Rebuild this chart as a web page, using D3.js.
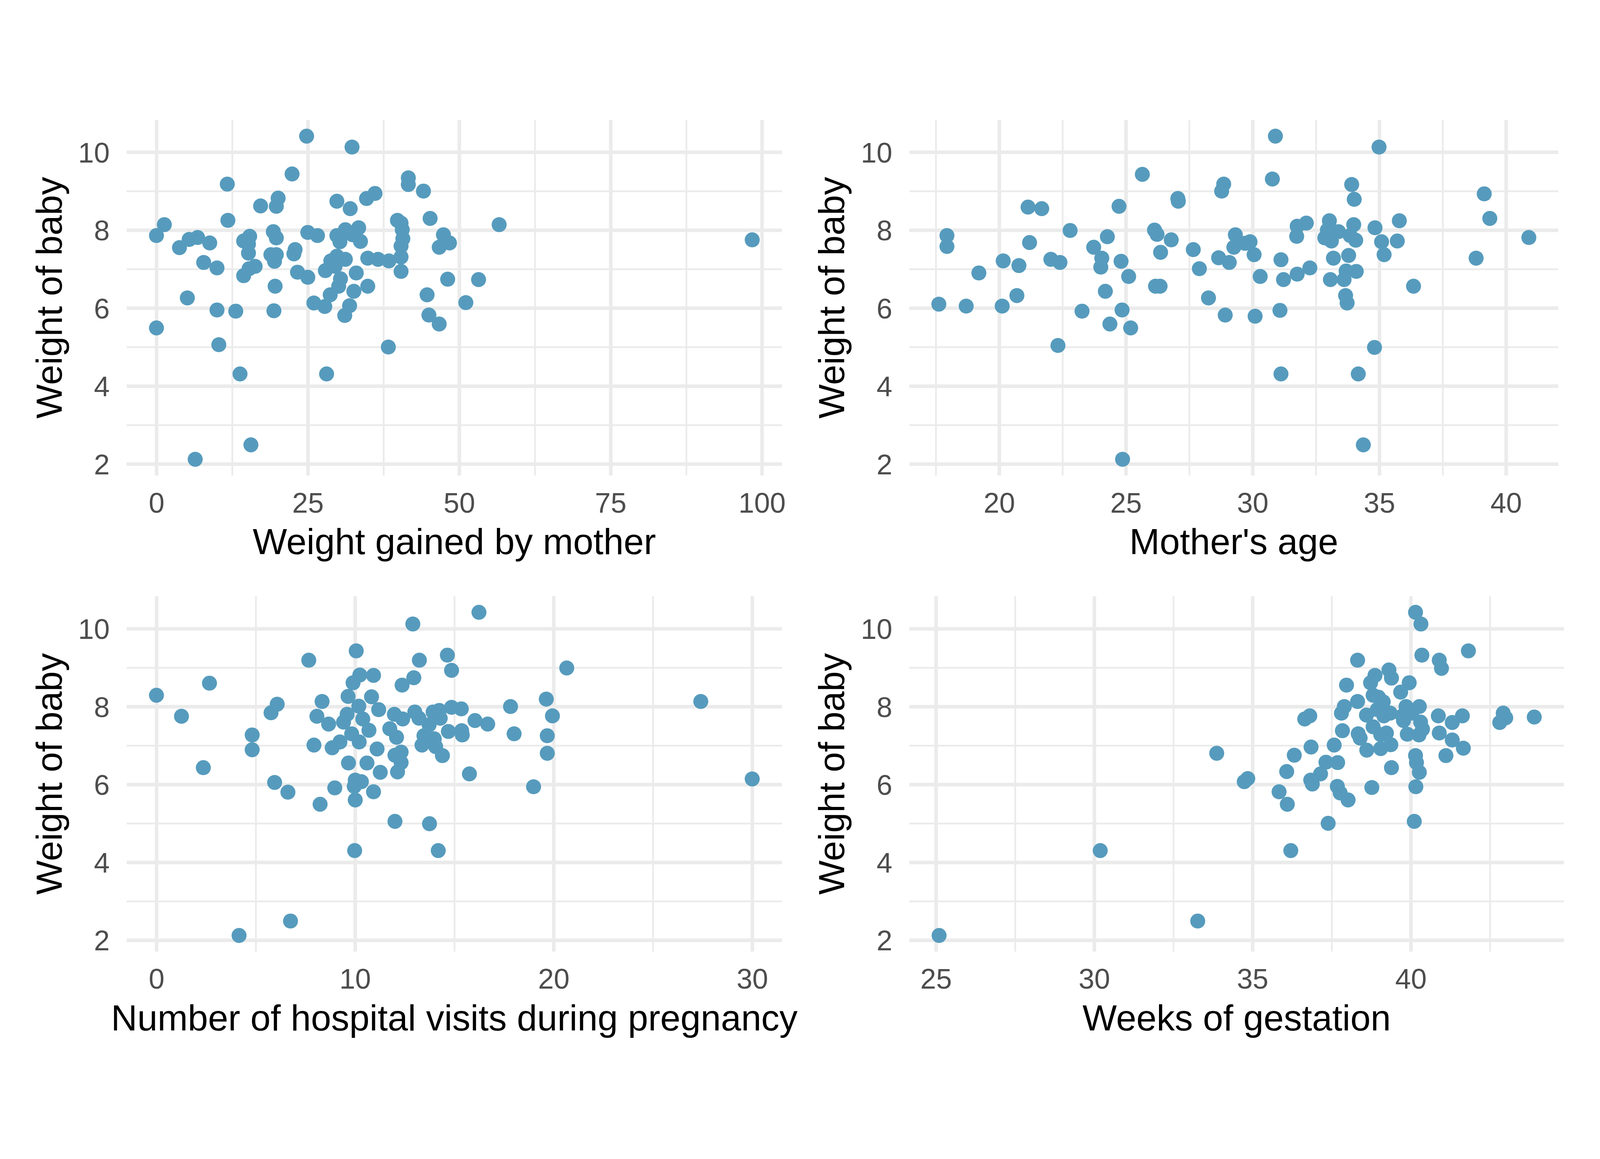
<!DOCTYPE html>
<html>
<head>
    <title>Baby weight scatterplots</title>
    <script src="https://d3js.org/d3.v7.min.js"></script>
    <style>
        html, body { margin: 0; padding: 0; width: 100%; height: 100%; overflow: hidden; background: #ffffff; }
        svg { display: block; width: 100vw; height: 100vh; }
        .grid line { stroke: #EBEBEB; }
        .grid.minor line { stroke-width: 5.3; }
        .grid.major line { stroke-width: 10.7; }
        .tick-labels text {
            font-family: "Liberation Sans", Arial, Helvetica, sans-serif;
            font-size: 85px;
            fill: #4D4D4D;
        }
        .axis-title {
            font-family: "Liberation Sans", Arial, Helvetica, sans-serif;
            font-size: 109px;
            fill: #000000;
        }
    </style>
</head>
<body>
    <svg viewBox="0 0 4800 2966" preserveAspectRatio="xMidYMid meet"></svg>
    <script>
        // [weight gained by mother, weight of baby]
        const weightGained = [
            [24.8,10.41],[32.3,10.13],[22.4,9.44],[11.7,9.18],[41.6,9.34],[41.6,9.17],[44.1,9.0],[36.1,8.94],
            [34.7,8.81],[20.1,8.82],[19.8,8.61],[17.2,8.62],[29.8,8.74],[32.0,8.55],[11.8,8.25],[45.2,8.30],
            [39.8,8.25],[40.4,8.18],[56.6,8.14],[1.3,8.14],[0,7.86],[5.4,7.76],[6.8,7.81],[3.8,7.55],
            [8.8,7.67],[7.8,7.17],[10.0,7.03],[5.1,6.26],[0,5.49],[10.0,5.95],[13.1,5.92],[10.3,5.06],
            [13.8,4.31],[15.6,2.49],[6.4,2.12],[14.4,7.72],[15.4,7.84],[15.2,7.41],[15.2,7.64],[14.4,6.83],
            [15.3,7.01],[16.3,7.07],[19.3,7.96],[19.8,7.80],[18.9,7.37],[19.8,7.37],[19.5,7.20],[19.6,6.56],
            [19.4,5.93],[22.7,7.39],[22.9,7.50],[23.3,6.92],[25.0,6.79],[25.0,7.94],[26.6,7.86],[27.9,6.96],
            [26.0,6.13],[27.8,6.04],[28.7,6.34],[28.1,4.31],[29.8,7.86],[30.3,7.70],[31.2,8.01],[32.4,7.88],
            [33.4,8.06],[33.7,7.71],[28.8,7.21],[29.8,7.33],[31.2,7.25],[29.5,7.07],[30.4,6.75],[30.1,6.56],
            [33.0,6.90],[32.6,6.43],[31.9,6.06],[31.1,5.81],[34.9,6.56],[34.9,7.28],[36.6,7.25],[38.4,7.21],
            [40.4,7.31],[40.4,7.59],[40.7,7.78],[40.6,8.01],[40.4,6.94],[38.3,5.0],[46.7,7.56],[47.4,7.88],
            [48.4,7.67],[48.1,6.74],[44.7,6.34],[45.0,5.82],[46.7,5.59],[51.1,6.14],[53.2,6.73],[98.4,7.75]
        ];

        // [mother's age, weight of baby]
        const motherAge = [
            [17.62,6.10],[17.94,7.86],[17.94,7.58],[18.70,6.05],[19.20,6.90],[20.12,6.05],[20.16,7.21],[20.70,6.32],
            [20.78,7.09],[21.14,8.59],[21.68,8.55],[21.20,7.68],[22.04,7.25],[22.40,7.17],[22.32,5.04],[22.80,7.99],
            [23.27,5.92],[23.73,7.56],[24.05,7.28],[24.01,7.05],[24.27,7.83],[24.19,6.43],[24.37,5.59],[24.73,8.61],
            [24.81,7.20],[24.85,5.95],[25.11,6.81],[25.19,5.49],[24.87,2.12],[25.65,9.43],[26.13,8.0],[26.23,7.89],
            [26.37,7.43],[26.17,6.56],[26.35,6.56],[26.79,7.75],[27.05,8.81],[27.07,8.74],[27.66,7.50],[27.90,7.01],
            [28.26,6.26],[28.66,7.29],[28.78,9.0],[28.86,9.18],[29.08,7.17],[28.92,5.82],[29.32,7.88],[29.26,7.56],
            [29.70,7.66],[29.90,7.70],[30.06,7.37],[30.10,5.79],[30.30,6.81],[30.90,10.41],[30.78,9.31],[31.12,7.24],
            [31.22,6.73],[31.08,5.94],[31.12,4.31],[31.76,8.10],[31.74,7.84],[31.76,6.87],[32.12,8.18],[32.26,7.03],
            [33.03,8.24],[32.95,8.0],[32.85,7.80],[33.11,7.72],[33.39,7.96],[33.19,7.28],[33.07,6.73],[33.91,9.17],
            [34.01,8.79],[33.99,8.14],[33.85,7.86],[34.07,7.74],[33.79,7.35],[33.69,6.95],[34.09,6.94],[33.61,6.73],
            [33.67,6.32],[33.73,6.13],[34.17,4.31],[34.37,2.49],[34.81,4.99],[34.83,8.06],[34.99,10.13],[35.09,7.70],
            [35.19,7.37],[35.71,7.72],[35.79,8.24],[36.35,6.56],[38.82,7.28],[39.14,8.93],[39.36,8.30],[40.90,7.81]
        ];

        // [number of hospital visits, weight of baby]
        const hospitalVisits = [
            [0,8.29],[1.26,7.75],[2.67,8.60],[2.36,6.43],[4.82,7.27],[4.82,6.89],[4.16,2.12],[6.75,2.49],
            [5.77,7.84],[6.08,8.06],[5.95,6.05],[6.62,5.80],[7.67,9.19],[7.93,7.01],[8.08,7.75],[8.34,8.13],
            [8.24,5.49],[8.67,7.55],[8.85,6.94],[8.98,5.91],[9.24,7.09],[9.42,7.60],[9.65,8.26],[9.60,7.80],
            [9.67,6.55],[9.83,7.30],[9.90,8.61],[10.06,9.43],[10.01,6.11],[9.96,5.95],[10.32,6.07],[10.01,5.60],
            [9.98,4.30],[10.19,8.01],[10.21,7.09],[10.24,8.81],[10.39,7.68],[10.60,6.55],[10.70,7.39],[10.83,8.25],
            [10.93,8.80],[11.11,6.91],[11.19,7.92],[11.27,6.31],[10.93,5.81],[11.75,7.43],[11.98,7.80],[12.09,7.21],
            [12.01,6.75],[12.32,6.83],[12.32,6.56],[12.14,6.32],[12.01,5.05],[12.37,8.55],[12.40,7.68],[12.91,10.12],
            [12.96,8.74],[13.01,7.86],[13.24,9.19],[13.22,7.70],[13.37,7.01],[13.47,7.25],[13.73,7.53],[13.93,7.86],
            [13.99,7.17],[14.06,6.97],[13.75,4.99],[14.19,4.30],[14.24,7.90],[14.29,7.70],[14.40,6.74],[14.65,9.32],
            [14.86,8.93],[14.70,7.36],[14.86,7.98],[15.35,7.94],[15.37,7.38],[15.40,7.27],[15.76,6.27],[16.04,7.64],
            [16.24,10.42],[16.68,7.55],[17.83,8.0],[18.01,7.30],[18.99,5.94],[19.63,8.19],[19.68,7.25],[19.68,6.80],
            [19.94,7.76],[20.66,8.99],[27.41,8.13],[30.0,6.14]
        ];

        // [weeks of gestation, weight of baby]
        const gestationWeeks = [
            [25.10,2.12],[30.19,4.30],[33.27,2.49],[33.87,6.80],[34.74,6.07],[34.85,6.15],[35.84,5.81],[36.08,6.33],
            [36.10,5.49],[36.21,4.30],[36.32,6.75],[36.65,7.68],[36.81,7.76],[36.85,6.96],[36.84,6.11],[36.89,6.01],
            [37.15,6.27],[37.32,6.57],[37.39,5.00],[37.58,7.01],[37.69,6.56],[37.68,5.95],[37.77,5.78],[38.02,5.60],
            [37.81,7.83],[37.84,7.38],[37.90,8.0],[37.97,8.55],[38.32,9.19],[38.32,8.13],[38.34,7.30],[38.40,7.19],
            [38.60,7.78],[38.61,6.88],[38.77,5.92],[38.73,8.61],[38.87,8.80],[38.81,8.29],[38.81,7.48],[38.94,7.92],
            [38.98,8.24],[39.05,7.28],[39.05,6.92],[39.13,8.12],[39.15,7.76],[39.23,7.32],[39.31,8.94],[39.39,8.73],
            [39.35,7.83],[39.37,7.02],[39.39,6.43],[39.68,8.37],[39.74,7.76],[39.77,7.64],[39.85,8.0],[39.89,7.29],
            [39.95,8.61],[40.03,7.83],[40.27,8.0],[40.15,10.42],[40.32,10.12],[40.35,9.32],[40.15,6.74],[40.18,6.56],
            [40.27,6.31],[40.16,5.94],[40.11,5.05],[40.31,7.60],[40.37,7.42],[40.26,7.27],[40.87,7.76],[40.90,7.32],
            [40.90,9.19],[40.97,8.98],[41.11,6.74],[41.31,7.59],[41.31,7.14],[41.63,7.76],[41.66,6.93],[41.82,9.43],
            [42.81,7.59],[42.92,7.83],[43.0,7.71],[43.90,7.73]
        ];

        // tick labels
        const gainedTicks = [0, 25, 50, 75, 100];
        const ageTicks = [20, 25, 30, 35, 40];
        const visitsTicks = [0, 10, 20, 30];
        const weeksTicks = [25, 30, 35, 40];
        const weightTicks = [2, 4, 6, 8, 10];

        const yTitle = "Weight of baby";

        // panel boxes in page pixels
        const panels = [
            {data: weightGained,   ticks: gainedTicks, title: "Weight gained by mother",
             left: 380,  right: 2346, top: 105,  bottom: 1171},
            {data: motherAge,      ticks: ageTicks,    title: "Mother's age",
             left: 2728, right: 4675, top: 105,  bottom: 1171},
            {data: hospitalVisits, ticks: visitsTicks, title: "Number of hospital visits during pregnancy",
             left: 380,  right: 2346, top: 1533, bottom: 2599},
            {data: gestationWeeks, ticks: weeksTicks,  title: "Weeks of gestation",
             left: 2728, right: 4692, top: 1533, bottom: 2599}
        ];

        const pointColor = "#569BBD";

        const svg = d3.select("svg");
        svg.append("rect").attr("width", 4800).attr("height", 2966).attr("fill", "#ffffff");

        // ggplot style: 5% padding on each side of the data range
        function expand(ext) {
            const r = ext[1] - ext[0];
            return [ext[0] - 0.05 * r, ext[1] + 0.05 * r];
        }

        // minor breaks halfway between the major ones, kept inside the panel
        function minorBreaks(major, domain) {
            const step = major[1] - major[0];
            const mids = [major[0] - step / 2]
                .concat(d3.pairs(major).map(p => (p[0] + p[1]) / 2))
                .concat([major[major.length - 1] + step / 2]);
            return mids.filter(v => v >= domain[0] && v <= domain[1]);
        }

        panels.forEach(p => {
            const w = p.right - p.left,
                  h = p.bottom - p.top;

            const x = d3.scaleLinear()
                .domain(expand(d3.extent(p.data, d => d[0])))
                .range([0, w]);
            const y = d3.scaleLinear()
                .domain(expand(d3.extent(p.data, d => d[1])))
                .range([h, 0]);

            const g = svg.append("g")
                .attr("transform", "translate(" + p.left + "," + p.top + ")");

            // grid lines, minor first then major
            [["minor", minorBreaks(p.ticks, x.domain()), minorBreaks(weightTicks, y.domain())],
             ["major", p.ticks, weightTicks]].forEach(([kind, xv, yv]) => {
                g.append("g")
                    .attr("class", "grid " + kind)
                    .attr("transform", "translate(0," + h + ")")
                    .call(d3.axisBottom(x).tickValues(xv).tickSize(-h).tickFormat(""))
                    .call(a => a.select(".domain").remove());
                g.append("g")
                    .attr("class", "grid " + kind)
                    .call(d3.axisLeft(y).tickValues(yv).tickSize(-w).tickFormat(""))
                    .call(a => a.select(".domain").remove());
            });

            // tick labels
            g.append("g")
                .attr("class", "tick-labels")
                .attr("transform", "translate(0," + h + ")")
                .call(d3.axisBottom(x).tickValues(p.ticks).tickSize(0).tickPadding(51).tickFormat(d3.format("d")))
                .call(a => a.select(".domain").remove());

            g.append("g")
                .attr("class", "tick-labels")
                .call(d3.axisLeft(y).tickValues(weightTicks).tickSize(0).tickPadding(51).tickFormat(d3.format("d")))
                .call(a => a.select(".domain").remove())
                .selectAll("text").attr("dy", "0.36em");

            // points
            g.append("g")
                .selectAll("circle")
                .data(p.data)
                .enter().append("circle")
                .attr("cx", d => x(d[0]))
                .attr("cy", d => y(d[1]))
                .attr("r", 22.5)
                .attr("fill", pointColor);

            // axis titles
            g.append("text")
                .attr("class", "axis-title")
                .attr("x", w / 2)
                .attr("y", h + 236)
                .attr("text-anchor", "middle")
                .text(p.title);

            g.append("text")
                .attr("class", "axis-title")
                .attr("transform", "translate(-195," + (h / 2) + ") rotate(-90)")
                .attr("text-anchor", "middle")
                .text(yTitle);
        });
    </script>
</body>
</html>
